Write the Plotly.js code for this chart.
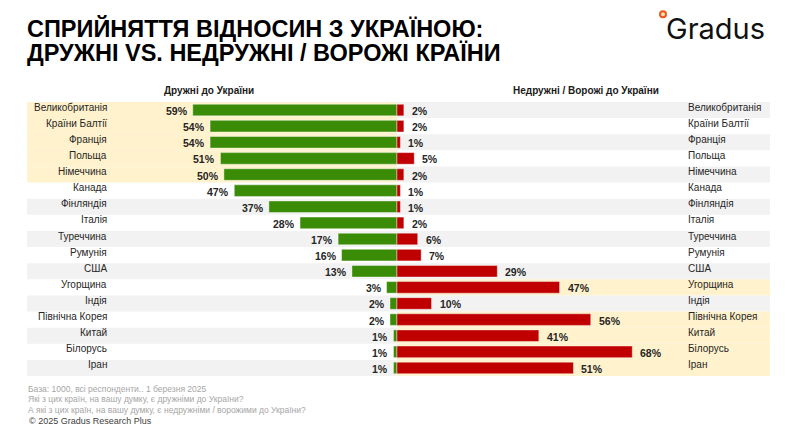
<!DOCTYPE html>
<html>
<head>
<meta charset="utf-8">
<script src="https://cdn.plot.ly/plotly-3.0.1.min.js"></script>
<style>html,body{margin:0;padding:0;background:#fff;}#chart{width:785px;height:432px;}</style>
</head>
<body>
<div id="chart"></div>
<script>
// ---- data ----
const countries = ["Великобританія","Країни Балтії","Франція","Польща","Німеччина","Канада","Фінляндія","Італія","Туреччина","Румунія","США","Угорщина","Індія","Північна Корея","Китай","Білорусь","Іран"];
const friendly = [59,54,54,51,50,47,37,28,17,16,13,3,2,2,1,1,1];
const unfriendly = [2,2,1,5,2,1,1,2,6,7,29,47,10,56,41,68,51];
const highlightLeft = [0,1,2,3,4];          // rows highlighted on the "friendly" side
const highlightRight = [11,13,14,15,16];    // rows highlighted on the "unfriendly" side
const titleLines = ["СПРИЙНЯТТЯ ВІДНОСИН З УКРАЇНОЮ:", "ДРУЖНІ VS. НЕДРУЖНІ / ВОРОЖІ КРАЇНИ"];
const footerLines = ["База: 1000, всі респонденти.. 1 березня 2025", "Які з цих країн, на вашу думку, є дружніми до України?", "А які з цих країн, на вашу думку, є недружніми / ворожими до України?"];

const W = 785, H = 432;
const L = 27, R = 770, T = 101.5, B = 376;
const xmin = -106.9, xmax = 107.8;
const px = p => (p - L) / (R - L);
const py = p => (B - p) / (B - T);
const cx = -xmin / (xmax - xmin);

const GREEN = '#3a8c06', RED = '#c00000', YEL = '#fff2cc', GRAY = '#f2f2f2';
const FONT = 'Liberation Sans, Arial, sans-serif';

const shapes = [];
countries.forEach((c, i) => {
  const even = i % 2 === 0;
  const leftCol = highlightLeft.includes(i) ? YEL : (even ? GRAY : null);
  const rightCol = highlightRight.includes(i) ? YEL : (even ? GRAY : null);
  if (leftCol) shapes.push({type:'rect', xref:'paper', yref:'y', x0:0, x1:cx, y0:i-0.5, y1:i+0.5, fillcolor:leftCol, line:{width:0}, layer:'below'});
  if (rightCol) shapes.push({type:'rect', xref:'paper', yref:'y', x0:cx, x1:1, y0:i-0.5, y1:i+0.5, fillcolor:rightCol, line:{width:0}, layer:'below'});
});
// logo dot
shapes.push({type:'circle', xref:'paper', yref:'paper', x0:px(660), x1:px(666), y0:py(16.5), y1:py(10.5), fillcolor:'#ffe0b0', line:{color:'#f0561b', width:2}});

const annotations = [];
const ann = (o) => annotations.push(Object.assign({showarrow:false, xanchor:'center', yanchor:'middle'}, o));
countries.forEach((c, i) => {
  ann({xref:'paper', yref:'y', x:px(108.5), y:i, text:c, xanchor:'right', yshift:3, font:{family:FONT, size:10, color:'#262626'}});
  ann({xref:'paper', yref:'y', x:px(685.5), y:i, text:c, xanchor:'left', yshift:3, font:{family:FONT, size:10, color:'#262626'}});
  ann({xref:'x', yref:'y', x:-friendly[i], y:i, text:friendly[i] + '%', xanchor:'right', xshift:-3, yshift:-1, font:{family:FONT, size:10.5, color:'#262626', weight:'bold'}});
  ann({xref:'x', yref:'y', x:unfriendly[i], y:i, text:unfriendly[i] + '%', xanchor:'left', xshift:6, yshift:-1, font:{family:FONT, size:10.5, color:'#262626', weight:'bold'}});
});
ann({xref:'paper', yref:'paper', x:px(209), y:py(90), text:'<b>Дружні до України</b>', font:{family:FONT, size:10, color:'#1a1a1a'}});
ann({xref:'paper', yref:'paper', x:px(586), y:py(90), text:'<b>Недружні / Ворожі до України</b>', font:{family:FONT, size:10, color:'#1a1a1a'}});
const titleY = [28, 52.5];
titleLines.forEach((t, k) => ann({xref:'paper', yref:'paper', x:px(26), y:py(titleY[k]), xanchor:'left', borderpad:0, text:'<b>' + t + '</b>', font:{family:FONT, size:23.5, color:'#000'}}));
const footY = [389, 399.5, 410];
footerLines.forEach((t, k) => ann({xref:'paper', yref:'paper', x:px(26), y:py(footY[k]), xanchor:'left', text:t, font:{family:FONT, size:8.5, color:'#a6a6a6'}}));
ann({xref:'paper', yref:'paper', x:px(27), y:py(421.5), xanchor:'left', text:'© 2025 Gradus Research Plus', font:{family:FONT, size:9, color:'#404040'}});
ann({xref:'paper', yref:'paper', x:px(664), y:py(28), xanchor:'left', text:'Gradus', font:{family:'Inter, Lato, sans-serif', size:29, color:'#111111'}});

const traces = [
  {type:'bar', orientation:'h', y:countries.map((c,i)=>i), x:friendly.map(v=>-v), width:0.72,
   marker:{color:GREEN, line:{color:'rgba(255,255,255,0.7)', width:0.6}}, hoverinfo:'skip'},
  {type:'bar', orientation:'h', y:countries.map((c,i)=>i), x:unfriendly, width:0.72,
   marker:{color:RED, line:{color:'rgba(255,255,255,0.7)', width:0.6}}, hoverinfo:'skip'}
];

const layout = {
  width:W, height:H,
  margin:{l:L, r:W-R, t:T, b:H-B, pad:0},
  paper_bgcolor:'#fff', plot_bgcolor:'rgba(0,0,0,0)',
  barmode:'relative', showlegend:false,
  xaxis:{range:[xmin, xmax], visible:false, fixedrange:true},
  yaxis:{range:[countries.length-0.5, -0.5], visible:false, fixedrange:true},
  shapes:shapes, annotations:annotations
};
Plotly.newPlot('chart', traces, layout, {displayModeBar:false, staticPlot:true});
</script>
</body>
</html>
